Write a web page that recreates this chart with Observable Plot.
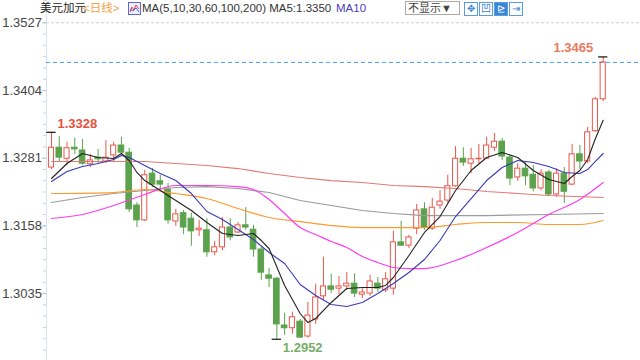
<!DOCTYPE html>
<html><head><meta charset="utf-8">
<script src="https://cdn.jsdelivr.net/npm/d3@7"></script>
<script src="https://cdn.jsdelivr.net/npm/@observablehq/plot@0.6"></script>
<style>
body{margin:0;background:#fff;}
#wrap{position:relative;width:640px;height:360px;overflow:hidden;font-family:Arial,"Liberation Sans","Noto Sans CJK SC",sans-serif;}
#chart{position:absolute;left:0;top:0;}
#hdr{position:absolute;left:0;top:0;width:640px;height:18px;font-size:11.5px;line-height:14px;}
#hdr span{position:absolute;top:1px;white-space:nowrap;}
.btn{position:absolute;top:2px;width:12px;height:12px;border:1px solid #5b9be0;background:#fff;color:#3a86d8;font-size:10px;line-height:12px;text-align:center;}
</style></head>
<body><div id="wrap"><div id="chart"></div>
<div id="hdr">
<span style="left:40px;color:#222;">美元加元</span>
<span style="left:83px;color:#f5a04a;">&lt;日线&gt;</span>
<span style="left:128px;top:2px;width:11px;height:11px;border:1px solid #5a6ad0;background:#eef;"><svg width="11" height="11"><polyline points="1,9 3,4 5,7 7,2 10,6" fill="none" stroke="#e04040" stroke-width="1"/><polyline points="1,6 4,8 7,5 10,9" fill="none" stroke="#4060e0" stroke-width="1"/></svg></span>
<span style="left:142px;color:#333;">MA(5,10,30,60,100,200) MA5:1.3350</span>
<span style="left:336px;color:#4a40b8;">MA10</span>
<span style="left:405px;top:1px;width:51px;height:12px;border:1px solid #aaa;color:#444;font-size:11px;line-height:12px;padding-left:2px;">不显示▼</span>
<div class="btn" style="left:464px;">✥</div>
<div class="btn" style="left:479px;">凹</div>
<div class="btn" style="left:494px;background:#3a86d8;color:#fff;">⊵</div>
<div class="btn" style="left:509px;">⇥</div>
</div>
</div>
<script>
// candle index (categories)
const idx = d3.range(72);
const opens  = [1.3264,1.3300,1.3280,1.3300,1.3295,1.3270,1.3282,1.3275,1.3286,1.3304,1.3291,1.3195,1.3168,1.3253,1.3239,1.3224,1.3166,1.3181,1.3171,1.3150,1.3150,1.3110,1.3119,1.3155,1.3146,1.3159,1.3151,1.3115,1.3068,1.3062,1.2977,1.2972,1.2984,1.2957,1.2988,1.3030,1.3048,1.3044,1.3048,1.3053,1.3033,1.3035,1.3053,1.3041,1.3044,1.3128,1.3122,1.3153,1.3188,1.3153,1.3195,1.3204,1.3230,1.3280,1.3271,1.3279,1.3280,1.3300,1.3311,1.3282,1.3246,1.3262,1.3251,1.3226,1.3255,1.3215,1.3253,1.3233,1.3288,1.3275,1.3330,1.3388];
const highs  = [1.3328,1.3320,1.3310,1.3317,1.3315,1.3288,1.3297,1.3313,1.3310,1.3319,1.3299,1.3200,1.3259,1.3262,1.3250,1.3235,1.3188,1.3186,1.3181,1.3168,1.3171,1.3130,1.3173,1.3171,1.3164,1.3191,1.3159,1.3119,1.3081,1.3064,1.2999,1.3001,1.2988,1.3019,1.3052,1.3101,1.3070,1.3066,1.3073,1.3071,1.3044,1.3068,1.3064,1.3073,1.3148,1.3166,1.3141,1.3197,1.3200,1.3208,1.3222,1.3250,1.3302,1.3300,1.3299,1.3306,1.3319,1.3326,1.3317,1.3286,1.3271,1.3273,1.3268,1.3260,1.3259,1.3262,1.3264,1.3306,1.3304,1.3337,1.3391,1.3465];
const lows   = [1.3260,1.3273,1.3268,1.3288,1.3268,1.3264,1.3271,1.3271,1.3273,1.3288,1.3182,1.3155,1.3166,1.3228,1.3222,1.3161,1.3157,1.3142,1.3121,1.3139,1.3101,1.3104,1.3113,1.3131,1.3144,1.3150,1.3101,1.3059,1.3046,1.2952,1.2959,1.2961,1.2954,1.2954,1.2979,1.3022,1.3035,1.3033,1.3041,1.3028,1.3026,1.3030,1.3037,1.3037,1.3032,1.3121,1.3117,1.3142,1.3150,1.3150,1.3188,1.3199,1.3228,1.3266,1.3253,1.3271,1.3279,1.3293,1.3277,1.3231,1.3239,1.3231,1.3220,1.3222,1.3211,1.3210,1.3199,1.3231,1.3260,1.3271,1.3328,1.3384];
const closes = [1.3300,1.3282,1.3299,1.3297,1.3271,1.3277,1.3279,1.3282,1.3304,1.3291,1.3188,1.3168,1.3250,1.3233,1.3233,1.3168,1.3179,1.3155,1.3148,1.3153,1.3110,1.3119,1.3155,1.3137,1.3159,1.3155,1.3115,1.3073,1.3062,1.2979,1.2972,1.2992,1.2955,1.2995,1.3028,1.3048,1.3042,1.3048,1.3053,1.3035,1.3037,1.3057,1.3044,1.3061,1.3128,1.3122,1.3137,1.3186,1.3155,1.3191,1.3202,1.3230,1.3280,1.3273,1.3279,1.3280,1.3304,1.3311,1.3284,1.3244,1.3262,1.3248,1.3226,1.3253,1.3215,1.3253,1.3220,1.3288,1.3275,1.3328,1.3388,1.3455];

// moving averages (candle index, value)
const ma5Idx = [0,2,4,6,8,9,10,11,12,14,16,18,20,22,24,26,27,28,30,32,33,34,36,38,40,42,43,44,46,48,50,52,54,56,58,60,62,64,66,67,68,69,70,71];
const ma5 = [1.32441,1.32713,1.32895,1.32822,1.32804,1.32895,1.32768,1.32550,1.32404,1.32223,1.32041,1.31859,1.31641,1.31441,1.31405,1.31441,1.31314,1.31169,1.30497,1.29988,1.29824,1.29897,1.30188,1.30442,1.30460,1.30460,1.30497,1.30642,1.31042,1.31460,1.31750,1.32223,1.32586,1.32822,1.32913,1.32822,1.32586,1.32423,1.32350,1.32477,1.32586,1.32786,1.33168,1.33500];
const ma10Idx = [0,2,4,6,8,9,10,12,14,16,18,20,22,24,26,28,30,32,34,36,38,40,42,44,46,48,50,52,54,56,58,60,62,64,66,68,69,70,71];
const ma10 = [1.32386,1.32568,1.32659,1.32713,1.32786,1.32859,1.32822,1.32677,1.32532,1.32404,1.32168,1.31841,1.31696,1.31514,1.31332,1.31096,1.30896,1.30515,1.30315,1.30151,1.30115,1.30188,1.30351,1.30533,1.30733,1.30969,1.31314,1.31750,1.32077,1.32404,1.32641,1.32768,1.32732,1.32659,1.32550,1.32532,1.32604,1.32750,1.32895];
const ma30Idx = [0,4,8,12,16,20,24,26,28,30,32,34,36,38,40,42,44,46,48,52,56,60,64,68,71];
const ma30 = [1.31714,1.31787,1.31950,1.32150,1.32314,1.32314,1.32295,1.32241,1.32059,1.31805,1.31550,1.31423,1.31296,1.31187,1.31024,1.30915,1.30824,1.30805,1.30805,1.30951,1.31187,1.31460,1.31787,1.32059,1.32368];
const ma60Idx = [0,8,12,16,20,24,28,32,36,40,48,52,56,60,64,68,71];
const ma60 = [1.32168,1.32186,1.32241,1.32168,1.32077,1.31896,1.31732,1.31659,1.31587,1.31550,1.31550,1.31605,1.31641,1.31641,1.31605,1.31605,1.31678];
const ma100Idx = [0,4,8,12,16,20,24,28,32,36,40,44,48,56,64,71];
const ma100 = [1.32005,1.32096,1.32168,1.32223,1.32277,1.32295,1.32259,1.32186,1.32041,1.31950,1.31859,1.31805,1.31768,1.31768,1.31787,1.31805];
const ma200Idx = [0,8,12,16,20,24,28,32,36,40,44,48,52,56,60,64,71];
const ma200 = [1.32750,1.32750,1.32750,1.32713,1.32677,1.32622,1.32532,1.32459,1.32404,1.32368,1.32314,1.32295,1.32259,1.32205,1.32168,1.32132,1.32096];

const yTicks = [1.3527,1.3404,1.3281,1.3158,1.3035];

const RED = "#e8574b", GREEN = "#5aa24c";
const candles = idx.map(i => ({i, o: opens[i], h: highs[i], l: lows[i], c: closes[i]}));
const up = candles.filter(d => d.c >= d.o), down = candles.filter(d => d.c < d.o);
const series = (ix, vals) => ix.map((i, k) => ({i, v: vals[k]}));
const minor = d3.range(1.2912, 1.3570, 0.00205);

const hiA = {i: 0, v: highs[0]}, hiB = {i: 71, v: highs[71]}, loA = {i: 29, v: lows[29]};
const fmt = d3.format(".4f");

const chart = Plot.plot({
  width: 640, height: 360,
  marginLeft: 46, marginRight: 0, marginTop: 0, marginBottom: 0,
  style: {fontFamily: "Arial, 'Liberation Sans', sans-serif", background: "transparent"},
  x: {type: "linear", domain: [0, 71], range: [51, 602.7], axis: null},
  y: {domain: [1.29134, 1.35675], range: [360, 0], axis: null},
  marks: [
    Plot.frame({anchor: "left", stroke: "#d6e2ee"}),
    Plot.axisY(minor, {tickSize: 3, stroke: "#c4d2e0", tickFormat: () => ""}),
    Plot.axisY({ticks: yTicks, tickSize: 4, tickPadding: 0.5, tickFormat: fmt, fill: "#444", stroke: "#b4c4d4", fontSize: 13}),
    Plot.ruleY([yTicks[0]], {stroke: "#cfcfcf", strokeDasharray: "3,2"}),
    Plot.ruleY([closes[71]], {stroke: "#4a9ef0", strokeDasharray: "4,3"}),
    // wicks
    Plot.ruleX(up, {x: "i", y1: "h", y2: "c", stroke: RED}),
    Plot.ruleX(up, {x: "i", y1: "o", y2: "l", stroke: RED}),
    Plot.ruleX(down, {x: "i", y1: "h", y2: "l", stroke: GREEN}),
    Plot.rect(up, {x1: d => d.i - 0.33, x2: d => d.i + 0.33, y1: "o", y2: "c", fill: "none", stroke: RED, strokeWidth: 1}),
    Plot.rect(down, {x1: d => d.i - 0.36, x2: d => d.i + 0.36, y1: "o", y2: "c", fill: GREEN, stroke: GREEN, strokeWidth: 1}),
    Plot.line(series(ma200Idx, ma200), {x: "i", y: "v", stroke: "#e47a72", strokeWidth: 1.2}),
    Plot.line(series(ma100Idx, ma100), {x: "i", y: "v", stroke: "#9a9a9a", strokeWidth: 1.2}),
    Plot.line(series(ma60Idx, ma60), {x: "i", y: "v", stroke: "#ff9a2e", strokeWidth: 1.2, curve: "monotone-x"}),
    Plot.line(series(ma30Idx, ma30), {x: "i", y: "v", stroke: "#ff3cf0", strokeWidth: 1.2, curve: "monotone-x"}),
    Plot.line(series(ma10Idx, ma10), {x: "i", y: "v", stroke: "#3a3ab8", strokeWidth: 1.1}),
    Plot.line(series(ma5Idx, ma5), {x: "i", y: "v", stroke: "#222", strokeWidth: 1.1}),
    // extreme markers
    Plot.ruleY([hiA, hiB, loA], {y: "v", x1: d => d.i - 0.6, x2: d => d.i + 0.6, stroke: "#111", strokeWidth: 1.2}),
    Plot.text([hiA], {x: "i", y: "v", text: d => fmt(d.v), fill: "#e8503c", dx: 6, dy: -8, textAnchor: "start", fontSize: 13, fontWeight: "bold"}),
    Plot.text([hiB], {x: "i", y: "v", text: d => fmt(d.v), fill: "#ea7a5c", dx: -10, dy: -9, textAnchor: "end", fontSize: 13, fontWeight: "bold"}),
    Plot.text([loA], {x: "i", y: "v", text: d => fmt(d.v), fill: "#78ae66", dx: 6, dy: 9, textAnchor: "start", fontSize: 13, fontWeight: "bold"})
  ]
});
document.getElementById("chart").appendChild(chart);
</script>
</body></html>
